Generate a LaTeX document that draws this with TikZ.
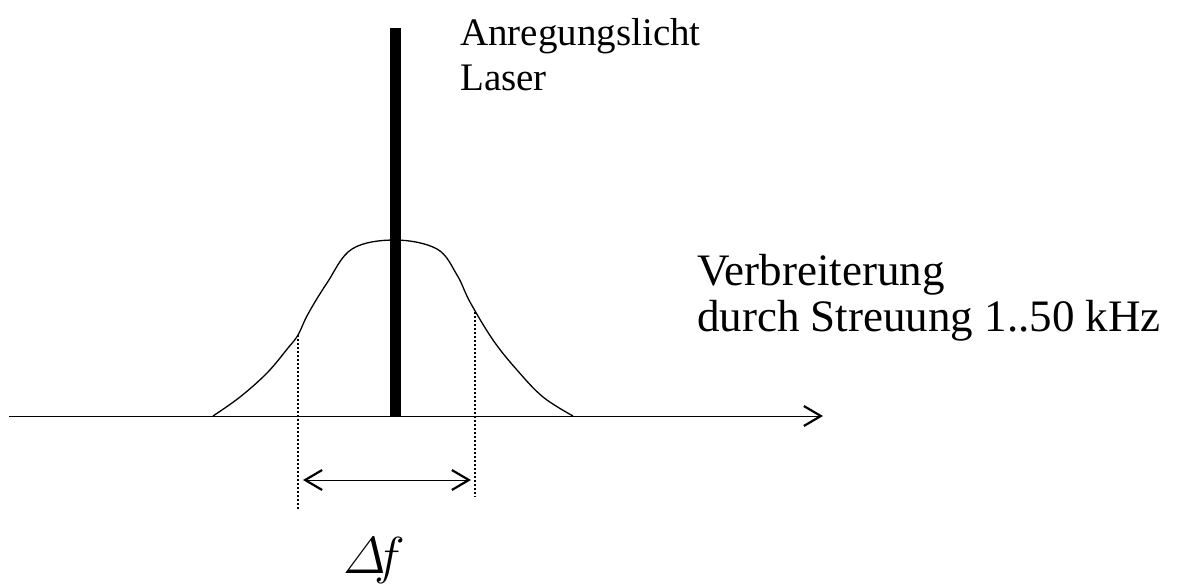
\documentclass[tikz,border=0pt]{standalone}
\usepackage{fix-cm}
\usepackage{amsmath}
\usepackage{fontspec}
\setmainfont{Liberation Serif}
\usetikzlibrary{arrows.meta,positioning}
\tikzset{
    x=1pt, y=-1pt, line width=1.6pt,
    lbl/.style = {anchor=base west, inner sep=0pt, font=\fontsize{39}{46}\selectfont},
    biglbl/.style = {lbl, font=\fontsize{45}{50}\selectfont},
    barb/.style = {-{Straight Barb[length=17pt, width=20pt, line width=2.2pt]}},
    twobarb/.style = {{Straight Barb[length=17pt, width=20pt, line width=2.2pt]}-{Straight Barb[length=17pt, width=20pt, line width=2.2pt]}},
    dotline/.style = {line width=1.6pt, dash pattern=on 1.6pt off 2.4pt}
}
\begin{document}
\begin{tikzpicture}
    \useasboundingbox (0,0) rectangle (1181,587);

    % frequency axis
    \coordinate (a0) at (9,416);
    \coordinate (a1) at (823,416);
    \draw[barb] (a0) -- (a1);

    % scattered line shape
    \draw[line width=1.3pt] plot[smooth, tension=0.6] coordinates {
        (213,416) (240,397) (267,373) (288,348) (298,335) (308,314)
        (327,283) (352,249) (395,240) (437,249) (457,275) (470,302)
        (493,340) (517,370) (543,397) (573,416)};

    % laser line
    \coordinate (l0) at (395,416);
    \coordinate (l1) at (395,28);
    \draw[line width=11pt] (l0) -- (l1);

    % width markers
    \coordinate (dl0) at (298,335);
    \coordinate (dl1) at (298,510);
    \coordinate (dr0) at (475,312);
    \coordinate (dr1) at (475,497);
    \draw[dotline] (dl0) -- (dl1);
    \draw[dotline] (dr0) -- (dr1);
    \coordinate (b0) at (303,480);
    \coordinate (b1) at (471,480);
    \draw[twobarb] (b0) -- (b1);

    % labels
    \node[lbl] (exc) at (460,45) {Anregungslicht};
    \node[lbl] (laser) at (460,90) {Laser};
    \node[biglbl] (broad) at (697,285) {Verbreiterung};
    \node[biglbl] (scat) at (697,331) {durch Streuung 1..50 kHz};
    \node[anchor=base west, inner sep=0pt, font=\fontsize{52}{60}\selectfont] (df) at (343,573) {$\varDelta\mkern-4mu f$};
\end{tikzpicture}
\end{document}
